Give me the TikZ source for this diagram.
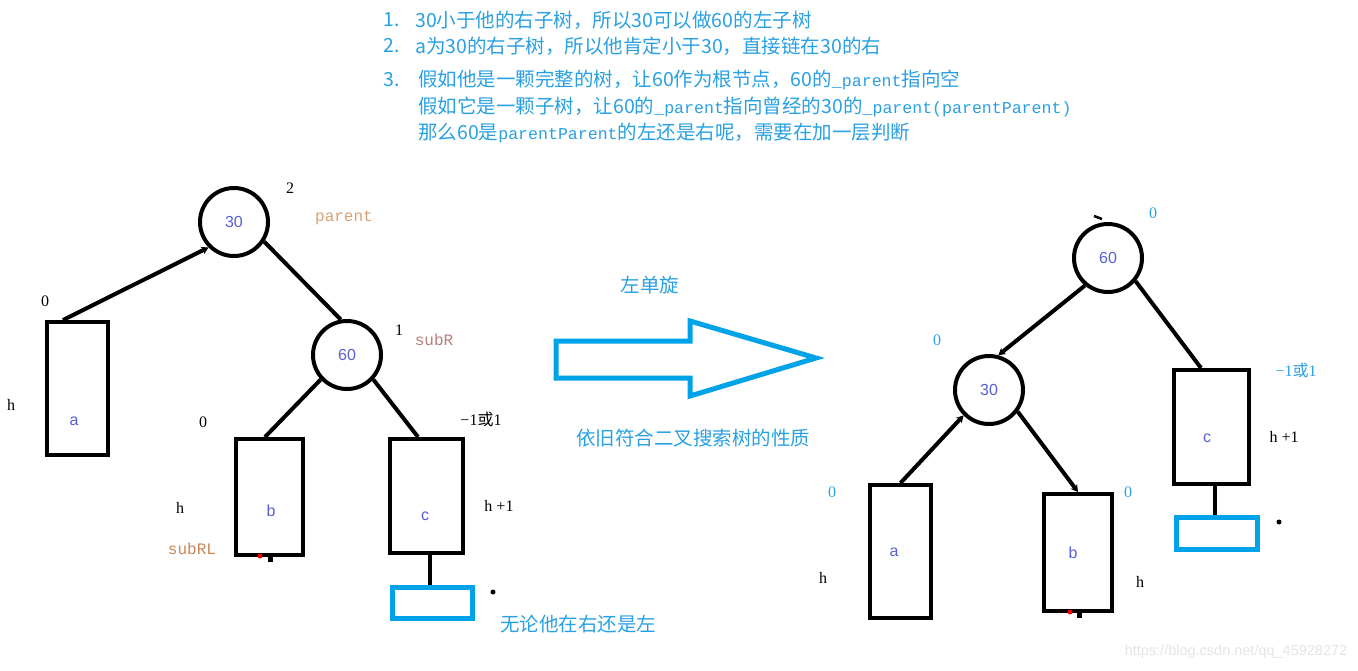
\documentclass[tikz,border=0pt]{standalone}
\usepackage{fontspec}
\setmainfont{Noto Sans CJK SC}
\newfontfamily\serifnum{Liberation Serif}
\newfontfamily\codefont[Scale=0.85]{Liberation Mono}
\newfontfamily\labelmono{Liberation Mono}
\newfontfamily\keyfont{Liberation Sans}
\usetikzlibrary{arrows.meta}
\definecolor{noteblue}{RGB}{40,160,225}
\definecolor{paintblue}{RGB}{0,162,232}
\definecolor{keyblue}{RGB}{85,95,215}
\definecolor{parentcol}{RGB}{215,160,115}
\definecolor{subrcol}{RGB}{185,125,125}
\definecolor{subrlcol}{RGB}{200,135,85}
\definecolor{markgray}{RGB}{228,228,228}
\begin{document}
\begin{tikzpicture}[x=1pt,y=-1pt]
\tikzstyle{keynode} = [circle, draw, line width=4pt, minimum size=68pt, inner sep=0, font=\keyfont\fontsize{16}{16}\selectfont, text=keyblue]
\tikzstyle{subtree} = [rectangle, draw, line width=4pt, inner sep=0]
\tikzstyle{nullbox} = [rectangle, draw=paintblue, line width=5pt, inner sep=0, minimum width=80pt, minimum height=31pt]
\tikzstyle{link} = [line width=4pt]
\tikzstyle{linktip} = [-{Stealth[length=7pt,width=8pt]}]
\tikzstyle{num} = [font=\serifnum\fontsize{16}{16}\selectfont, inner sep=0]
\tikzstyle{tag} = [font=\labelmono\fontsize{16}{16}\selectfont, inner sep=0]
\tikzstyle{key} = [font=\keyfont\fontsize{16}{16}\selectfont, text=keyblue, inner sep=0]
\tikzstyle{note} = [font=\fontsize{19.5}{19.5}\selectfont, text=noteblue, anchor=west, inner sep=0]
\tikzstyle{say} = [font=\fontsize{19.5}{19.5}\selectfont, text=noteblue, inner sep=0]
\useasboundingbox (0,0) rectangle (1358,670);

% notes on top
\node [note] (t1n) at (383,20) {1.};
\node [note] (t1) at (415,20) {30小于他的右子树，所以30可以做60的左子树};
\node [note] (t2n) at (383,46) {2.};
\node [note] (t2) at (415,46) {a为30的右子树，所以他肯定小于30，直接链在30的右};
\node [note] (t3n) at (383,80) {3.};
\node [note] (t3) at (418,80) {假如他是一颗完整的树，让60作为根节点，60的{\codefont\_parent}指向空};
\node [note] (t4) at (418,107) {假如它是一颗子树，让60的{\codefont\_parent}指向曾经的30的{\codefont\_parent(parentParent)}};
\node [note] (t5) at (418,133) {那么60是{\codefont parentParent}的左还是右呢，需要在加一层判断};

% tree before the rotation
\node [keynode] (l30) at (234,222) {30};
\node [keynode] (l60) at (347,355) {60};
\node [subtree, minimum width=61pt, minimum height=133pt] (la) at (77.5,388.5) {};
\node [subtree, minimum width=67pt, minimum height=116pt] (lb) at (269.5,497) {};
\node [subtree, minimum width=73pt, minimum height=114pt] (lc) at (426.5,496) {};
\node [nullbox] (lnull) at (432.5,603) {};
\draw [link, linktip] ([xshift=18pt]la.north west) -- (l30.225);
\draw [link] (l30.327) -- (l60.100);
\draw [link] (l60.223) -- ([xshift=31pt]lb.north west);
\draw [link] (l60.317) -- ([xshift=30pt]lc.north west);
\draw [link] ([xshift=3pt]lc.south) -- ([xshift=3pt]lc.south |- lnull.north);
\fill [red] (260,556) circle (2.5);
\fill (268,556) rectangle (273,562);
\fill (493,592) circle (2.5);

\node [key] (lka) at (74,421) {a};
\node [key] (lkb) at (271,511) {b};
\node [key] (lkc) at (425,516) {c};
\node [num] (lbf30) at (290,188) {2};
\node [tag, text=parentcol] (ltag30) at (344,218) {parent};
\node [num] (lbfa) at (45,301) {0};
\node [num] (lha) at (11,405) {h};
\node [num] (lbf60) at (399,330) {1};
\node [tag, text=subrcol] (ltag60) at (434,340) {subR};
\node [num] (lbfb) at (203,422) {0};
\node [num] (lbfc) at (481,419) {−1{\rmfamily 或}1};
\node [num] (lhb) at (180,508) {h};
\node [tag, text=subrlcol] (ltagb) at (192,549) {subRL};
\node [num] (lhc) at (499,506) {h +1};
\node [say] (either) at (578,624) {无论他在右还是左};

% rotation arrow
\draw [paintblue, line width=5pt] (556,341) -- (690,341) -- (690,321) -- (816,358) -- (690,396) -- (690,378) -- (556,378) -- cycle;
\node [say] (rotname) at (650,285) {左单旋};
\node [say] (still) at (693,438) {依旧符合二叉搜索树的性质};

% tree after the rotation
\node [keynode] (r60) at (1108,258) {60};
\node [keynode] (r30) at (989,390) {30};
\node [subtree, minimum width=61pt, minimum height=133pt] (ra) at (900.5,551.5) {};
\node [subtree, minimum width=68pt, minimum height=117pt] (rb) at (1078,552.5) {};
\node [subtree, minimum width=75pt, minimum height=114pt] (rc) at (1211.5,427) {};
\node [nullbox, minimum width=81pt, minimum height=32pt] (rnull) at (1217,533.5) {};
\draw [link, linktip] (r60.230) -- (r30.75);
\draw [link, linktip] (ra.north) -- (r30.225);
\draw [link, linktip] (r30.323) -- (rb.north);
\draw [link] (r60.320) -- ([xshift=29pt]rc.north west);
\draw [link] ([xshift=3pt]rc.south) -- ([xshift=3pt]rc.south |- rnull.north);
\draw [line width=2.5pt] (1094,216) -- (1102,219);
\fill [red] (1070,612) circle (2.5);
\fill (1077,612) rectangle (1082,618);
\fill (1279,522) circle (2.5);

\node [key] (rka) at (894,552) {a};
\node [key] (rkb) at (1073,553) {b};
\node [key] (rkc) at (1207,438) {c};
\node [num, text=noteblue] (rbf60) at (1153,213) {0};
\node [num, text=noteblue] (rbf30) at (937,340) {0};
\node [num, text=noteblue] (rbfc) at (1296,370) {−1{\rmfamily 或}1};
\node [num] (rhc) at (1284,437) {h +1};
\node [num, text=noteblue] (rbfa) at (832,492) {0};
\node [num, text=noteblue] (rbfb) at (1128,492) {0};
\node [num] (rha) at (823,578) {h};
\node [num] (rhb) at (1140,582) {h};

\node [font=\keyfont\fontsize{14.5}{14.5}\selectfont, text=markgray, inner sep=0] (mark) at (1236,652) {https://blog.csdn.net/qq\_45928272};
\end{tikzpicture}
\end{document}
